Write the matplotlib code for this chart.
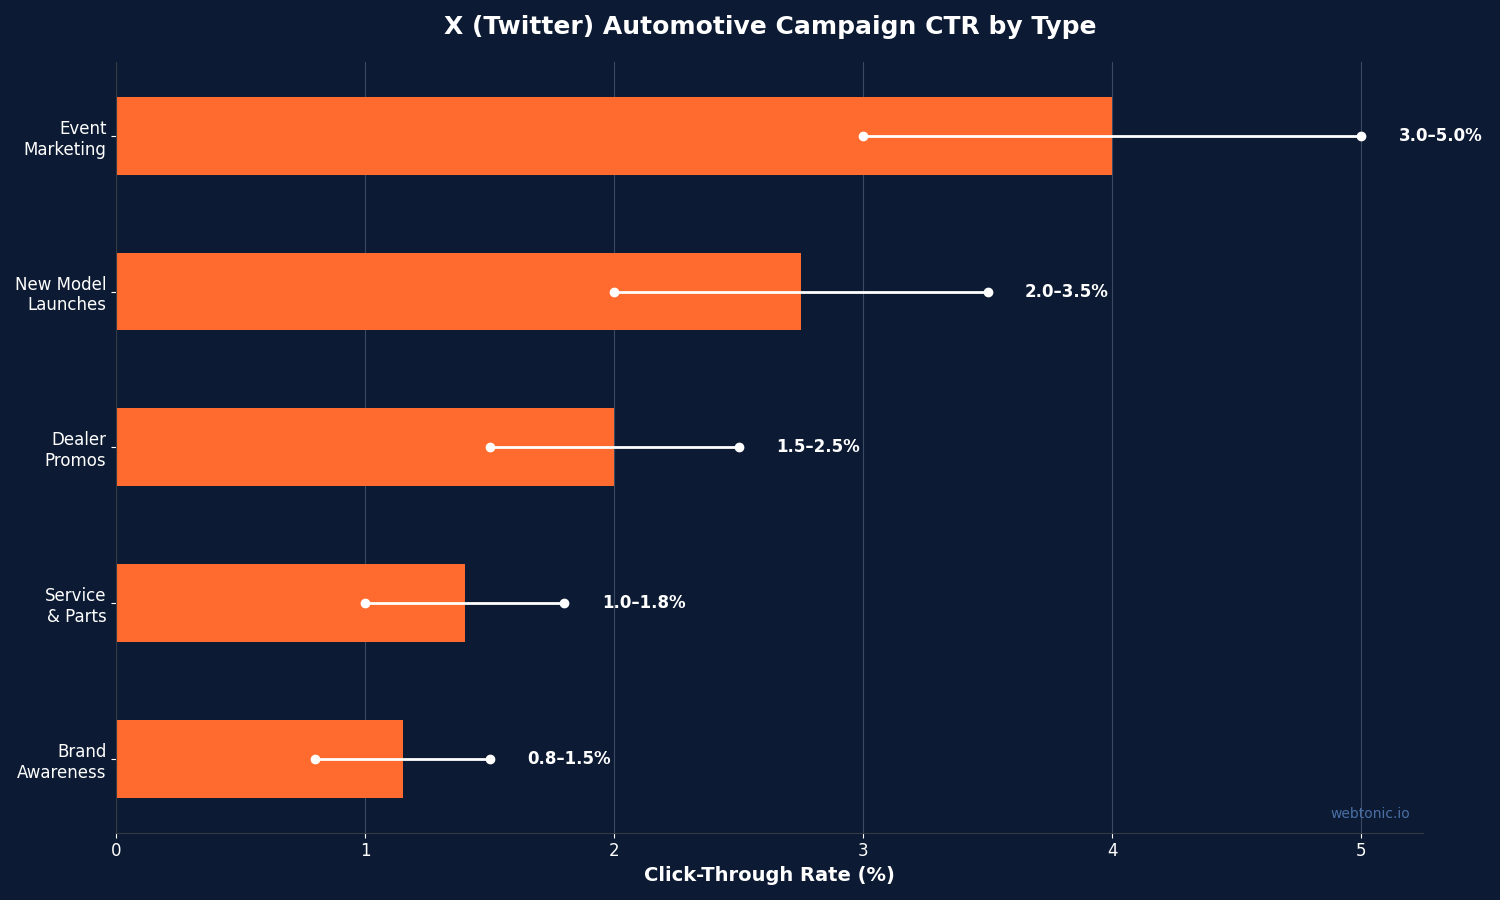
import matplotlib.pyplot as plt
import numpy as np

# data
categories = ['Brand\nAwareness', 'Service\n& Parts', 'Dealer\nPromos', 'New Model\nLaunches', 'Event\nMarketing']
ctr_mid = [1.15, 1.4, 2.0, 2.75, 4.0]
ctr_low = [0.8, 1.0, 1.5, 2.0, 3.0]
ctr_high = [1.5, 1.8, 2.5, 3.5, 5.0]
range_labels = ['0.8–1.5%', '1.0–1.8%', '1.5–2.5%', '2.0–3.5%', '3.0–5.0%']

bg = '#0c1b33'
orange = '#ff6b2e'

fig, ax = plt.subplots(figsize=(15, 9), dpi=100)
fig.patch.set_facecolor(bg)
ax.set_facecolor(bg)

y = np.arange(len(categories))
ax.barh(y, ctr_mid, height=0.5, color=orange, zorder=2)

for i in range(len(categories)):
    ax.plot([ctr_low[i], ctr_high[i]], [y[i], y[i]], color='white', lw=2,
            marker='o', markersize=6, zorder=3)
    ax.text(ctr_high[i] + 0.15, y[i], range_labels[i], color='white',
            fontsize=12, fontweight='bold', va='center', ha='left')

ax.set_yticks(y)
ax.set_yticklabels(categories)
ax.set_xlim(0, 5.25)
ax.tick_params(colors='white', labelsize=12)
ax.set_xlabel('Click-Through Rate (%)', color='white', fontsize=14, fontweight='bold')
ax.set_title('X (Twitter) Automotive Campaign CTR by Type', color='white',
             fontsize=18, fontweight='bold', pad=20)

ax.grid(axis='x', color='#3a4a63', linewidth=0.8, zorder=0)
ax.set_axisbelow(True)
for s in ['top', 'right']:
    ax.spines[s].set_visible(False)
for s in ['left', 'bottom']:
    ax.spines[s].set_color('#333a44')

ax.text(0.99, 0.015, 'webtonic.io', transform=ax.transAxes, ha='right', va='bottom',
        color='#4a6fa5', fontsize=10)

plt.tight_layout()
plt.savefig('out.png', facecolor=bg)
